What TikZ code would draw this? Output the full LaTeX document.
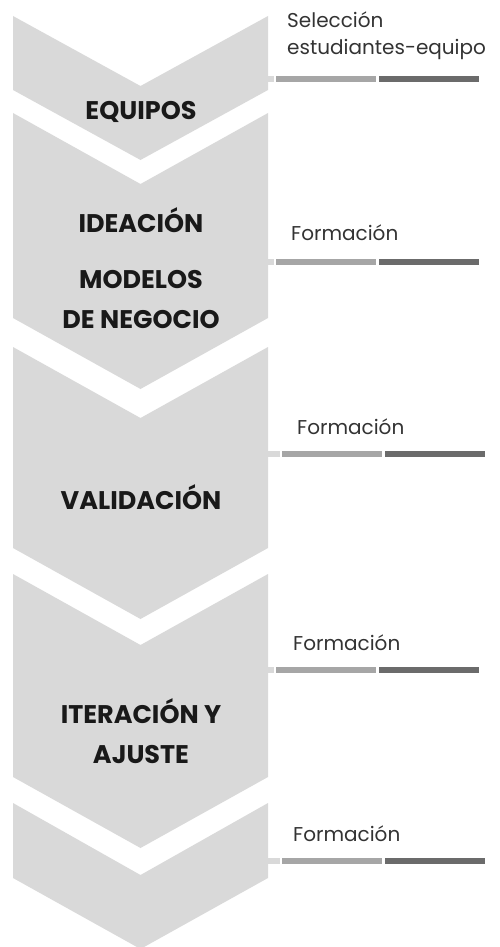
\documentclass[tikz,border=0pt]{standalone}
\usepackage{fontspec}
\setmainfont{Poppins}
\definecolor{chevgray}{HTML}{D9D9D9}
\definecolor{barlight}{HTML}{A6A6A6}
\definecolor{bardark}{HTML}{6B6B6B}
\begin{document}
\begin{tikzpicture}[x=1pt, y=-1pt,
    % Styles
    chevron/.style={fill=chevgray},
    stage/.style={font=\fontsize{25.5}{40}\selectfont\bfseries, text=black!90, align=center, inner sep=0pt},
    note/.style={font=\fontsize{20}{27}\selectfont, text=black!80, anchor=west, align=left, inner sep=0pt},
    stub/.style={chevgray, line width=6pt},
    lightbar/.style={barlight, line width=6pt},
    darkbar/.style={bardark, line width=6pt},
]
\useasboundingbox (0,0) rectangle (500,947);

% Chevrons
\fill[chevron] (13,16) -- (140.5,86) -- (268,16) -- (268,90) -- (140.5,160) -- (13,90) -- cycle;
\fill[chevron] (13,113) -- (140.5,184) -- (268,113) -- (268,318) -- (140.5,389) -- (13,318) -- cycle;
\fill[chevron] (13,347) -- (140.5,418) -- (268,347) -- (268,548) -- (140.5,619) -- (13,548) -- cycle;
\fill[chevron] (13,574) -- (140.5,645) -- (268,574) -- (268,777) -- (140.5,848) -- (13,777) -- cycle;
\fill[chevron] (13,803) -- (140.5,875) -- (268,803) -- (268,878) -- (140.5,949) -- (13,878) -- cycle;

% Stage labels
\node[stage] (equipos) at (141, 112) {EQUIPOS};
\node[stage] (ideacion) at (141, 220) {IDEACIÓN};
\node[stage] (modelos) at (141, 300) {MODELOS\\DE NEGOCIO};
\node[stage] (validacion) at (141, 497) {VALIDACIÓN};
\node[stage] (iteracion) at (141, 731) {ITERACIÓN Y\\AJUSTE};

% Notes on the right
\node[note] (seleccion) at (287, 36) {Selección\\estudiantes-equipo};
\node[note] (formA) at (291, 233) {Formación};
\node[note] (formB) at (297, 427) {Formación};
\node[note] (formC) at (293, 643) {Formación};
\node[note] (formD) at (293, 834) {Formación};

% Bars under the notes
\coordinate (barA) at (268, 79);
\draw[stub] (barA) -- ++(6,0);
\draw[lightbar] (276,79) -- (376,79);
\draw[darkbar] (379,79) -- (479,79);

\coordinate (barB) at (268, 262);
\draw[stub] (barB) -- ++(6,0);
\draw[lightbar] (276,262) -- (376,262);
\draw[darkbar] (379,262) -- (479,262);

\coordinate (barC) at (268, 454);
\draw[stub] (barC) -- ++(12,0);
\draw[lightbar] (282,454) -- (382,454);
\draw[darkbar] (385,454) -- (485,454);

\coordinate (barD) at (268, 670);
\draw[stub] (barD) -- ++(6,0);
\draw[lightbar] (276,670) -- (376,670);
\draw[darkbar] (379,670) -- (479,670);

\coordinate (barE) at (268, 861);
\draw[stub] (barE) -- ++(12,0);
\draw[lightbar] (282,861) -- (382,861);
\draw[darkbar] (385,861) -- (485,861);

\end{tikzpicture}
\end{document}
